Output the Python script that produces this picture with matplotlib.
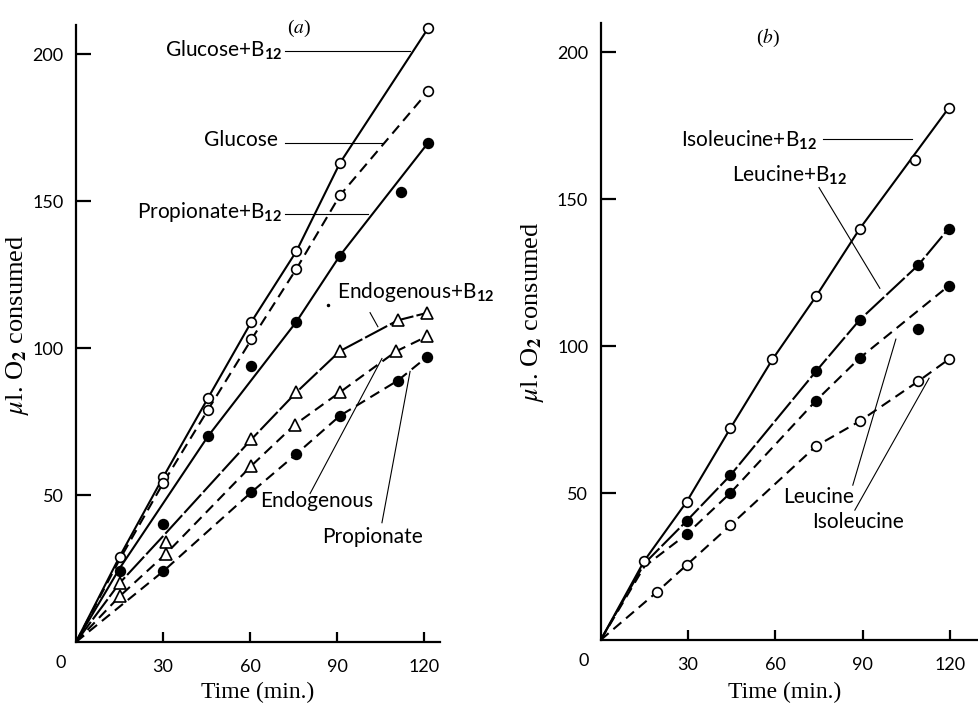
from matplotlib import pyplot as plt

plt.rcParams['font.family'] = ['Lato', 'DejaVu Sans']
plt.rcParams['mathtext.fontset'] = 'custom'
plt.rcParams['mathtext.rm'] = 'Lato'
plt.rcParams['mathtext.bf'] = 'Lato:bold'
plt.rcParams['mathtext.it'] = 'Lato:italic'

W, H = 979, 703

# ---- panel (a) data: markers ----
glu_b12_t = [15, 30, 45.5, 60.5, 76, 91, 121.5]
glu_b12_v = [29, 56, 83, 109, 133, 163, 209]
glu_t = [30, 45.5, 60.5, 76, 91, 121.5]
glu_v = [54, 79, 103, 127, 152, 187.5]
prop_b12_t = [15, 30, 45.5, 60.5, 76, 91, 112, 121.5]
prop_b12_v = [24, 40, 70, 94, 109, 131.5, 153, 170]
endo_b12_t = [15, 31, 60.5, 76, 91, 111, 121]
endo_b12_v = [20, 34, 69, 85, 99, 109.5, 112]
endo_t = [15, 31, 60.5, 75.5, 91, 110.5, 121]
endo_v = [15.5, 30, 60, 74, 85, 99, 104]
prop_t = [30, 60.5, 76, 91, 111, 121]
prop_v = [24, 51, 64, 77, 89, 97]

# ---- panel (a) drawn curves ----
glu_b12_ct = [0, 15, 30, 45.5, 60.5, 76, 91, 121.5]
glu_b12_cv = [0, 29, 56, 83, 109, 133, 163, 209]
glu_ct = [0, 15, 30, 45.5, 60.5, 76, 91, 121.5]
glu_cv = [0, 28, 54, 79, 103, 127, 152, 187.5]
prop_b12_ct = [0, 15, 45.5, 76, 91, 121.5]
prop_b12_cv = [0, 25, 70, 109, 131.5, 170]
endo_b12_ct = [0, 15, 30, 60.5, 76, 91, 111, 121]
endo_b12_cv = [0, 20, 36, 69, 85, 99, 109.5, 112]
endo_ct = [0, 15, 31, 60.5, 75.5, 91, 110.5, 121]
endo_cv = [0, 15.5, 30, 60, 74, 85, 99, 104]
prop_ct = [0, 15, 30, 60.5, 76, 91, 111, 121]
prop_cv = [0, 12, 24, 51, 64, 77, 89, 97]

# ---- panel (b) data: markers ----
ile_b12_t = [15, 29.5, 44.5, 59, 74, 89, 108, 119.5]
ile_b12_v = [27, 47, 72, 95.5, 117, 140, 163.5, 181]
leu_b12_t = [29.5, 44.5, 74, 89, 109, 119.5]
leu_b12_v = [40.5, 56, 91.5, 109, 127.5, 140]
leu_t = [29.5, 44.5, 74, 89, 109, 119.5]
leu_v = [36, 50, 81.5, 96, 106, 120.5]
ile_t = [19.5, 29.5, 44.5, 74, 89, 109, 119.5]
ile_v = [16.5, 25.5, 39, 66, 74.5, 88, 95.5]

# ---- panel (b) drawn curves ----
ile_b12_ct = [0, 15, 29.5, 44.5, 59, 74, 89, 119.5]
ile_b12_cv = [0, 27, 47, 72, 95.5, 117, 140, 181]
leu_b12_ct = [0, 15, 29.5, 44.5, 74, 89, 109, 119.5]
leu_b12_cv = [0, 26, 40.5, 56, 91.5, 109, 127.5, 140]
leu_ct = [0, 15, 29.5, 44.5, 74, 89, 119.5]
leu_cv = [0, 25, 36, 50, 81.5, 96, 120.5]
ile_ct = [0, 19.5, 29.5, 44.5, 74, 89, 109, 119.5]
ile_cv = [0, 16.5, 25.5, 39, 66, 74.5, 88, 95.5]

x_ticks = [30, 60, 90, 120]
y_ticks = [50, 100, 150, 200]

SOLID = '-'
DASH = (0, (5, 3))
LONGDASH = (0, (12, 1.5))


def fx(px):
    return px / W


def fy(py):
    return 1 - py / H


def series(ax, ct, cv, t, v, ls, marker, face):
    ax.plot(ct, cv, color='black', lw=1.5, linestyle=ls, zorder=2)
    ms = 9 if marker == '^' else 7
    ax.plot(t, v, linestyle='none', marker=marker, ms=ms, mfc=face, mec='black',
            mew=1.2, zorder=3, clip_on=False)


def leader(ax, p0, p1):
    ax.plot([p0[0], p1[0]], [p0[1], p1[1]], color='black', lw=0.8, zorder=1)


def label(ax, x, y, s, ha):
    ax.text(x, y, s, ha=ha, va='center', fontsize=15)


def style_axes(ax, xmax):
    ax.set_xlim(0, xmax)
    ax.set_ylim(0, 210)
    ax.spines['top'].set_visible(False)
    ax.spines['right'].set_visible(False)
    ax.spines['left'].set_linewidth(1.6)
    ax.spines['bottom'].set_linewidth(1.6)
    ax.set_xticks(x_ticks)
    ax.set_yticks(y_ticks)
    ax.tick_params(axis='y', direction='in', length=11, width=1.6, labelsize=13, pad=9)
    ax.tick_params(axis='x', direction='in', length=7, width=1.6, labelsize=13, pad=12)
    ax.patch.set_visible(False)


fig = plt.figure(figsize=(W / 100, H / 100), dpi=100, facecolor='white')

# panel (a)
ax_a = fig.add_axes([fx(76), fy(642), fx(440 - 76), (642 - 25) / H])
style_axes(ax_a, (440 - 76) / 2.9)
series(ax_a, glu_b12_ct, glu_b12_cv, glu_b12_t, glu_b12_v, SOLID, 'o', 'white')
series(ax_a, glu_ct, glu_cv, glu_t, glu_v, DASH, 'o', 'white')
series(ax_a, prop_b12_ct, prop_b12_cv, prop_b12_t, prop_b12_v, SOLID, 'o', 'black')
series(ax_a, endo_b12_ct, endo_b12_cv, endo_b12_t, endo_b12_v, LONGDASH, '^', 'white')
series(ax_a, endo_ct, endo_cv, endo_t, endo_v, DASH, '^', 'white')
series(ax_a, prop_ct, prop_cv, prop_t, prop_v, DASH, 'o', 'black')

ax_a.text(77, 209, '($a$)', ha='center', va='center', fontsize=14,
          family=['Liberation Serif'], math_fontfamily='stix')
label(ax_a, 71.4, 201.5, 'Glucose+B$_{\\mathbf{12}}$', 'right')
leader(ax_a, (72, 201), (115.2, 201))
label(ax_a, 69.7, 170.7, 'Glucose', 'right')
leader(ax_a, (72, 169.7), (105.9, 169.7))
label(ax_a, 71, 146.3, 'Propionate+B$_{\\mathbf{12}}$', 'right')
leader(ax_a, (72, 145.6), (100.7, 145.6))
label(ax_a, 90, 119.2, 'Endogenous+B$_{\\mathbf{12}}$', 'left')
ax_a.plot([86.9], [114.8], marker='.', ms=3, color='black')
leader(ax_a, (101.4, 112.1), (104.1, 107.3))
label(ax_a, 63.4, 48.1, 'Endogenous', 'left')
leader(ax_a, (80.7, 50.5), (105.5, 96.5))
label(ax_a, 84.8, 35.6, 'Propionate', 'left')
leader(ax_a, (105.5, 40.6), (115.2, 92.1))

# panel (b)
ax_b = fig.add_axes([fx(600.7), fy(640), fx(979 - 600.7), (640 - 23) / H])
style_axes(ax_b, (979 - 600.7) / 2.911)
series(ax_b, ile_b12_ct, ile_b12_cv, ile_b12_t, ile_b12_v, SOLID, 'o', 'white')
series(ax_b, leu_b12_ct, leu_b12_cv, leu_b12_t, leu_b12_v, LONGDASH, 'o', 'black')
series(ax_b, leu_ct, leu_cv, leu_t, leu_v, DASH, 'o', 'black')
series(ax_b, ile_ct, ile_cv, ile_t, ile_v, DASH, 'o', 'white')

ax_b.text(57.3, 205, '($b$)', ha='center', va='center', fontsize=14,
          family=['Liberation Serif'], math_fontfamily='stix')
label(ax_b, 74.3, 170, 'Isoleucine+B$_{\\mathbf{12}}$', 'right')
leader(ax_b, (76.4, 170.4), (106.9, 170.4))
label(ax_b, 84.6, 158.2, 'Leucine+B$_{\\mathbf{12}}$', 'right')
leader(ax_b, (75, 154), (95.9, 119.7))
label(ax_b, 62.6, 48.6, 'Leucine', 'left')
leader(ax_b, (86.6, 52.7), (101.4, 102.4))
label(ax_b, 72.6, 40.1, 'Isoleucine', 'left')
leader(ax_b, (87.3, 44.2), (112.8, 89.1))

# shared corner zeros, axis titles
for zx, zy in [(61, 663), (584, 661)]:
    fig.text(fx(zx), fy(zy), '0', ha='center', va='center', fontsize=13)
for cx in [258, 785]:
    fig.text(fx(cx), fy(692), 'Time (min.)', ha='center', va='center', fontsize=17,
             family=['Liberation Serif'])
for cx, cy in [(18, 325), (533, 312)]:
    fig.text(fx(cx), fy(cy), '$\\mu$l. O$_{\\mathbf{2}}$ consumed', ha='center',
             va='center', rotation=90, fontsize=19, family=['Liberation Serif'],
             math_fontfamily='stix')

fig.savefig('out.png', dpi=100, facecolor='white')
